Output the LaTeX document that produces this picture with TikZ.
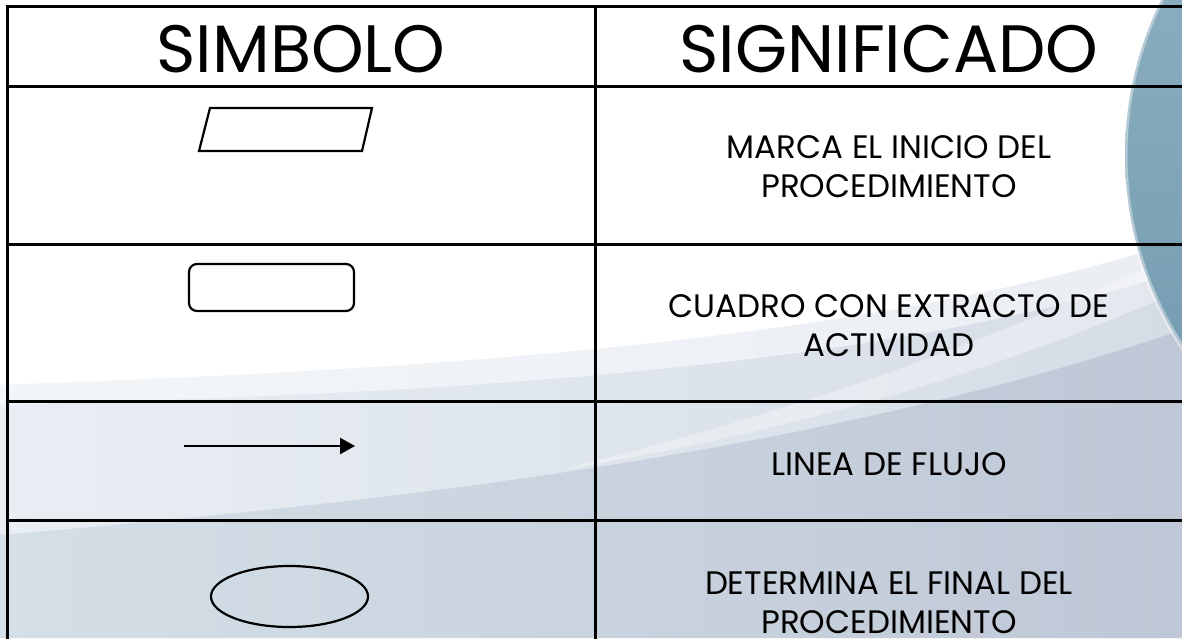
\documentclass[tikz,border=0pt]{standalone}
\usepackage{fontspec}
\setmainfont{Poppins}
\usetikzlibrary{arrows.meta, shapes.geometric}
\definecolor{fondoA}{HTML}{E8EEF3}
\definecolor{fondoB}{HTML}{D6DCE6}
\definecolor{fondoC}{HTML}{D4DFE7}
\definecolor{fondoD}{HTML}{BFC7D6}
\definecolor{globoA}{HTML}{93B5C4}
\definecolor{globoB}{HTML}{6E97AD}
\tikzset{
  tabla/.style={line width=3pt, draw=black},
  head/.style={
    font=\fontsize{67}{70}\selectfont,
    anchor=base,
    inner sep=0pt
  },
  cell/.style={
    font=\fontsize{32.5}{39}\selectfont,
    align=center,
    anchor=base,
    inner sep=0pt
  },
  symbol/.style={draw=black, line width=2.2pt, inner sep=0pt},
  flow/.style={line width=2.2pt, -{Triangle[length=15pt,width=16pt]}}
}
\begin{document}
\begin{tikzpicture}[x=1pt, y=-1pt]
  \useasboundingbox (0,0) rectangle (1182,638);
  % fondo
  \begin{scope}
    \clip (0,0) rectangle (1182,638);
    \fill[white] (0,0) rectangle (1182,638);
    \shade[left color=fondoA, right color=fondoB]
      (0,385) .. controls (350,372) and (850,350) .. (1182,240)
      -- (1182,638) -- (0,638) -- cycle;
    \fill[white, opacity=0.5]
      (0,385) .. controls (350,372) and (850,350) .. (1182,240)
      -- (1182,270) .. controls (850,380) and (350,395) .. (0,405) -- cycle;
    \shade[left color=fondoC, right color=fondoD]
      (0,535) .. controls (350,505) and (800,460) .. (1182,330)
      -- (1182,638) -- (0,638) -- cycle;
    \fill[white, opacity=0.35]
      (560,470) .. controls (800,410) and (1000,340) .. (1182,250)
      -- (1182,290) .. controls (1000,370) and (800,430) .. cycle;
    \shade[top color=globoA, bottom color=globoB] (1475,155) circle (350);
    \draw[white, opacity=0.4, line width=5pt] (1475,155) circle (350);
  \end{scope}
  % tabla
  \draw[tabla] (1190,6) -- (7.5,6) -- (7.5,645);
  \draw[tabla] (595,6) -- (595,645);
  \foreach \y in {86,244,401,520}
    \draw[tabla] (7.5,\y) -- (1190,\y);
  % encabezados
  \node[head] (hsimbolo) at (301,72) {SIMBOLO};
  \node[head] (hsignif) at (889,72) {SIGNIFICADO};
  % simbolos
  \draw[symbol] (210,108) -- (372,108) -- (362,151) -- (199,151) -- cycle;
  \node[symbol, rounded corners=8pt, minimum width=165pt, minimum height=47pt]
    (cuadro) at (271.5,287.5) {};
  \coordinate (fini) at (184,446);
  \coordinate (ffin) at (355,446);
  \draw[flow] (fini) -- (ffin);
  \node[symbol, ellipse, minimum width=157pt, minimum height=61pt]
    (fin) at (289.5,596.5) {};
  % significados
  \node[cell] (tinicio) at (889,197) {MARCA EL INICIO DEL\\PROCEDIMIENTO};
  \node[cell] (tcuadro) at (889,356) {CUADRO CON EXTRACTO DE\\ACTIVIDAD};
  \node[cell] (tflujo) at (889,475) {LINEA DE FLUJO};
  \node[cell] (tfinal) at (889,633) {DETERMINA EL FINAL DEL\\PROCEDIMIENTO};
\end{tikzpicture}
\end{document}
